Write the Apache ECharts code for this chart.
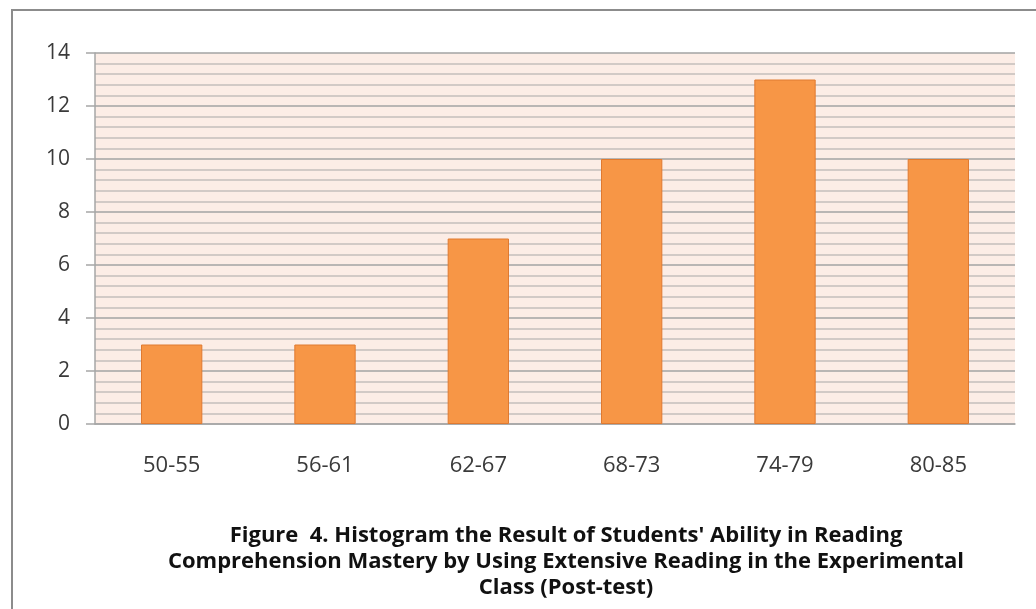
<!DOCTYPE html>
<html>
<head>
<meta charset="utf-8">
<script src="https://cdn.jsdelivr.net/npm/echarts@6/dist/echarts.min.js"></script>
<style>
  html, body { margin: 0; padding: 0; background: #ffffff; }
  #chart { width: 1036px; height: 609px; }
</style>
</head>
<body>
<div id="chart"></div>
<script>
// Score ranges and number of students in each range
const scoreRanges = ['50-55', '56-61', '62-67', '68-73', '74-79', '80-85'];
const studentCounts = [3, 3, 7, 10, 13, 10];
const captionLines = [
  "Figure  4. Histogram the Result of Students' Ability in Reading",
  'Comprehension Mastery by Using Extensive Reading in the Experimental',
  'Class (Post-test)'
];

const chart = echarts.init(document.getElementById('chart'), null, { renderer: 'canvas' });
const font = '"Open Sans", Lato, sans-serif';

chart.setOption({
  animation: false,
  backgroundColor: '#ffffff',
  grid: {
    left: 95, right: 21, top: 53, bottom: 185,
    show: true,
    backgroundColor: '#fcede6',
    borderWidth: 0
  },
  xAxis: {
    type: 'category',
    data: scoreRanges,
    axisLine: { show: true, lineStyle: { color: '#a6a6a6', width: 1.5 } },
    axisTick: { show: false },
    axisLabel: { margin: 31, fontFamily: font, fontSize: 22, color: '#3a3a3a' },
    splitLine: { show: false }
  },
  yAxis: {
    type: 'value',
    min: 0, max: 14, interval: 2,
    axisLine: { show: true, lineStyle: { color: '#a6a6a6', width: 1.5 } },
    axisTick: { show: true, inside: false, length: 9, lineStyle: { color: '#a6a6a6', width: 1.5 } },
    axisLabel: { margin: 25, fontFamily: font, fontSize: 21, color: '#3a3a3a' },
    splitLine: { show: true, lineStyle: { color: '#a3a3a3', width: 1.5 } },
    minorTick: { show: false, splitNumber: 5 },
    minorSplitLine: { show: true, lineStyle: { color: '#c4bebc', width: 1.5 } }
  },
  series: [{
    type: 'bar',
    data: studentCounts,
    barWidth: '40%',
    itemStyle: { color: '#f79646', borderColor: '#e07a30', borderWidth: 1 }
  }],
  graphic: [
    {
      type: 'rect',
      shape: { x: 12, y: 10, width: 1100, height: 700 },
      style: { fill: 'none', stroke: '#8c8c8c', lineWidth: 2 },
      silent: true
    },
    {
      type: 'text',
      x: 566, y: 523,
      style: {
        text: captionLines.join('\n'),
        align: 'center',
        verticalAlign: 'top',
        fontFamily: font,
        fontWeight: 'bold',
        fontSize: 22,
        lineHeight: 26,
        fill: '#111111'
      }
    }
  ]
});
</script>
</body>
</html>
